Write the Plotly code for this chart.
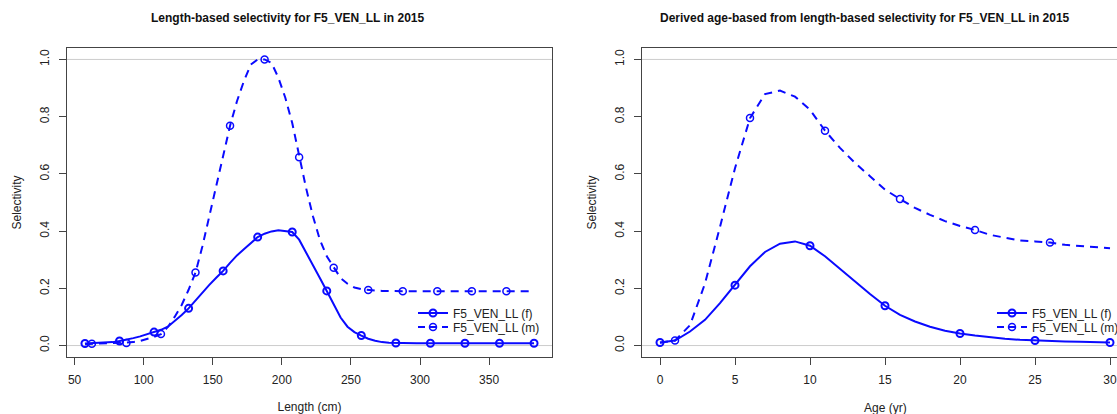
import plotly.graph_objects as go

# ---------------- data ----------------
length_cm = [57.5 + 5 * i for i in range(66)]  # length bins 57.5 ... 382.5

len_sel_f = [0.007, 0.008, 0.009, 0.010, 0.012, 0.016, 0.020, 0.026, 0.032, 0.039,
             0.047, 0.055, 0.066, 0.086, 0.107, 0.130, 0.158, 0.186, 0.212, 0.237,
             0.261, 0.289, 0.315, 0.337, 0.358, 0.379, 0.391, 0.399, 0.403, 0.401,
             0.397, 0.370, 0.327, 0.282, 0.236, 0.191, 0.142, 0.098, 0.066, 0.047,
             0.035, 0.024, 0.017, 0.012, 0.010, 0.009, 0.008, 0.008, 0.008, 0.008,
             0.008, 0.008, 0.008, 0.008, 0.008, 0.008, 0.008, 0.008, 0.008, 0.008,
             0.008, 0.008, 0.008, 0.008, 0.008, 0.008]

len_sel_m = [0.005, 0.006, 0.006, 0.006, 0.007, 0.008, 0.009, 0.012, 0.016, 0.022,
             0.030, 0.040, 0.065, 0.101, 0.142, 0.195, 0.255, 0.347, 0.452, 0.562,
             0.673, 0.768, 0.854, 0.924, 0.982, 1.000, 1.000, 0.988, 0.936, 0.866,
             0.778, 0.658, 0.551, 0.452, 0.370, 0.312, 0.272, 0.236, 0.216, 0.203,
             0.197, 0.194, 0.192, 0.191, 0.190, 0.190, 0.190, 0.190, 0.190, 0.190,
             0.190, 0.190, 0.190, 0.190, 0.190, 0.190, 0.190, 0.190, 0.190, 0.190,
             0.190, 0.190, 0.190, 0.190, 0.190, 0.190]

age_yr = list(range(31))

age_sel_f = [0.0105, 0.0175, 0.049, 0.090, 0.148, 0.211, 0.277, 0.327, 0.356, 0.364,
             0.349, 0.312, 0.268, 0.223, 0.180, 0.139, 0.107, 0.084, 0.066, 0.052,
             0.042, 0.035, 0.029, 0.024, 0.020, 0.0175, 0.016, 0.014, 0.013, 0.012,
             0.0105]

age_sel_m = [0.010, 0.0175, 0.071, 0.217, 0.415, 0.620, 0.795, 0.879, 0.891, 0.870,
             0.824, 0.751, 0.691, 0.638, 0.592, 0.545, 0.512, 0.481, 0.457, 0.435,
             0.418, 0.404, 0.387, 0.376, 0.367, 0.364, 0.360, 0.352, 0.348, 0.344,
             0.340]

series_names = ["F5_VEN_LL (f)", "F5_VEN_LL (m)"]
titles = ["Length-based selectivity for F5_VEN_LL in 2015",
          "Derived age-based from length-based selectivity for F5_VEN_LL in 2015"]
length_ticks = [50, 100, 150, 200, 250, 300, 350]
age_ticks = [0, 5, 10, 15, 20, 25, 30]
sel_ticks = [0.0, 0.2, 0.4, 0.6, 0.8, 1.0]
ref_lines = [0.0, 1.0]

# ---------------- style ----------------
W, H = 1117, 414
BLUE = "rgb(10,10,255)"
FONT = "Liberation Sans, Arial, sans-serif"
AX = "#444444"

def px_x(p):
    return p / W

def px_y(p):
    return (H - p) / H

ydom = [px_y(357), px_y(48)]

fig = go.Figure()

def every(xs, ys, start, step):
    return [xs[i] for i in range(start, len(xs), step)], [ys[i] for i in range(start, len(ys), step)]

def add_pair(xs, yf, ym, xa, ya, step, legs):
    # lines
    fig.add_trace(go.Scatter(x=xs, y=yf, mode="lines", line=dict(color=BLUE, width=2),
                             xaxis=xa, yaxis=ya, showlegend=False, hoverinfo="skip"))
    fig.add_trace(go.Scatter(x=xs, y=ym, mode="lines", line=dict(color=BLUE, width=2, dash="8px,6px"),
                             xaxis=xa, yaxis=ya, showlegend=False, hoverinfo="skip"))
    # markers
    mxf, myf = every(xs, yf, 0, step)
    mxm, mym = every(xs, ym, 1, step)
    fig.add_trace(go.Scatter(x=mxf, y=myf, mode="markers",
                             marker=dict(symbol="circle-open", size=7, color=BLUE, line=dict(width=2, color=BLUE)),
                             xaxis=xa, yaxis=ya, showlegend=False))
    fig.add_trace(go.Scatter(x=mxm, y=mym, mode="markers",
                             marker=dict(symbol="circle-open", size=7, color=BLUE, line=dict(width=1.5, color=BLUE)),
                             xaxis=xa, yaxis=ya, showlegend=False))
    # legend entries
    fig.add_trace(go.Scatter(x=[None], y=[None], mode="lines+markers", name=series_names[0],
                             line=dict(color=BLUE, width=2),
                             marker=dict(symbol="circle-open", size=7, color=BLUE, line=dict(width=2, color=BLUE)),
                             xaxis=xa, yaxis=ya, legend=legs[0]))
    fig.add_trace(go.Scatter(x=[None], y=[None], mode="lines+markers", name=series_names[1],
                             line=dict(color=BLUE, width=2, dash="7px,5px"),
                             marker=dict(symbol="circle-open", size=7, color=BLUE, line=dict(width=1.5, color=BLUE)),
                             xaxis=xa, yaxis=ya, legend=legs[1]))

add_pair(length_cm, len_sel_f, len_sel_m, "x", "y", 5, ["legend", "legend2"])
add_pair(age_yr, age_sel_f, age_sel_m, "x2", "y2", 5, ["legend3", "legend4"])

axis_common = dict(showline=True, linecolor=AX, linewidth=1, mirror=True, ticks="outside",
                   ticklen=7, tickcolor=AX, tickwidth=1, showgrid=False, zeroline=False,
                   tickfont=dict(family=FONT, size=12, color="#222"))

x1_lo, x1_hi = 57.5 - 0.04 * 325, 382.5 + 0.04 * 325
x2_lo = -1.2
x2_hi = x2_lo + (W - 642) / 15.0

fig.update_layout(
    width=W, height=H, margin=dict(l=0, r=0, t=0, b=0, autoexpand=False),
    paper_bgcolor="white", plot_bgcolor="white",
    xaxis=dict(domain=[px_x(67), px_x(552)], range=[x1_lo, x1_hi], tickvals=length_ticks,
               anchor="y", ticklabelstandoff=5, **axis_common,
               title=dict(text="Length (cm)", font=dict(family=FONT, size=12, color="#222"), standoff=18)),
    yaxis=dict(domain=ydom, range=[-0.04, 1.04], tickvals=sel_ticks, tickformat=".1f",
               tickangle=-90, anchor="x", ticklabelstandoff=5, **axis_common,
               title=dict(text="Selectivity", font=dict(family=FONT, size=12, color="#222"), standoff=14)),
    xaxis2=dict(domain=[px_x(642), 1.0], range=[x2_lo, x2_hi], tickvals=age_ticks,
                anchor="y2", ticklabelstandoff=5, **axis_common),
    yaxis2=dict(domain=ydom, range=[-0.04, 1.04], tickvals=sel_ticks, tickformat=".1f",
                tickangle=-90, anchor="x2", ticklabelstandoff=5, **axis_common,
                title=dict(text="Selectivity", font=dict(family=FONT, size=12, color="#222"), standoff=14)),
    showlegend=True,
)

leg_common = dict(xanchor="left", yanchor="middle", bgcolor="rgba(0,0,0,0)", borderwidth=0,
                  font=dict(family=FONT, size=12, color="#222"), itemwidth=30)
fig.update_layout(
    legend=dict(x=px_x(413), y=px_y(313), **leg_common),
    legend2=dict(x=px_x(413), y=px_y(327), **leg_common),
    legend3=dict(x=px_x(992), y=px_y(313), **leg_common),
    legend4=dict(x=px_x(992), y=px_y(327), **leg_common),
)

for xa, ya in (("x", "y"), ("x2", "y2")):
    for v in ref_lines:
        fig.add_shape(type="line", xref=xa + " domain", yref=ya, x0=0, x1=1, y0=v, y1=v,
                      line=dict(color="#cccccc", width=1), layer="below")

fig.add_annotation(text="<b>" + titles[0] + "</b>", xref="paper", yref="paper",
                   x=px_x(288), y=px_y(18), showarrow=False, xanchor="center", yanchor="middle",
                   font=dict(family=FONT, size=12, color="#111"))
fig.add_annotation(text="<b>" + titles[1] + "</b>", xref="paper", yref="paper",
                   x=px_x(865), y=px_y(18), showarrow=False, xanchor="center", yanchor="middle",
                   font=dict(family=FONT, size=12, color="#111"))
fig.add_annotation(text="Age (yr)", xref="x2", yref="paper", x=(age_ticks[0] + age_ticks[-1]) / 2,
                   y=px_y(408), showarrow=False, xanchor="center", yanchor="middle",
                   font=dict(family=FONT, size=12, color="#222"))

fig.write_html("out.html")
